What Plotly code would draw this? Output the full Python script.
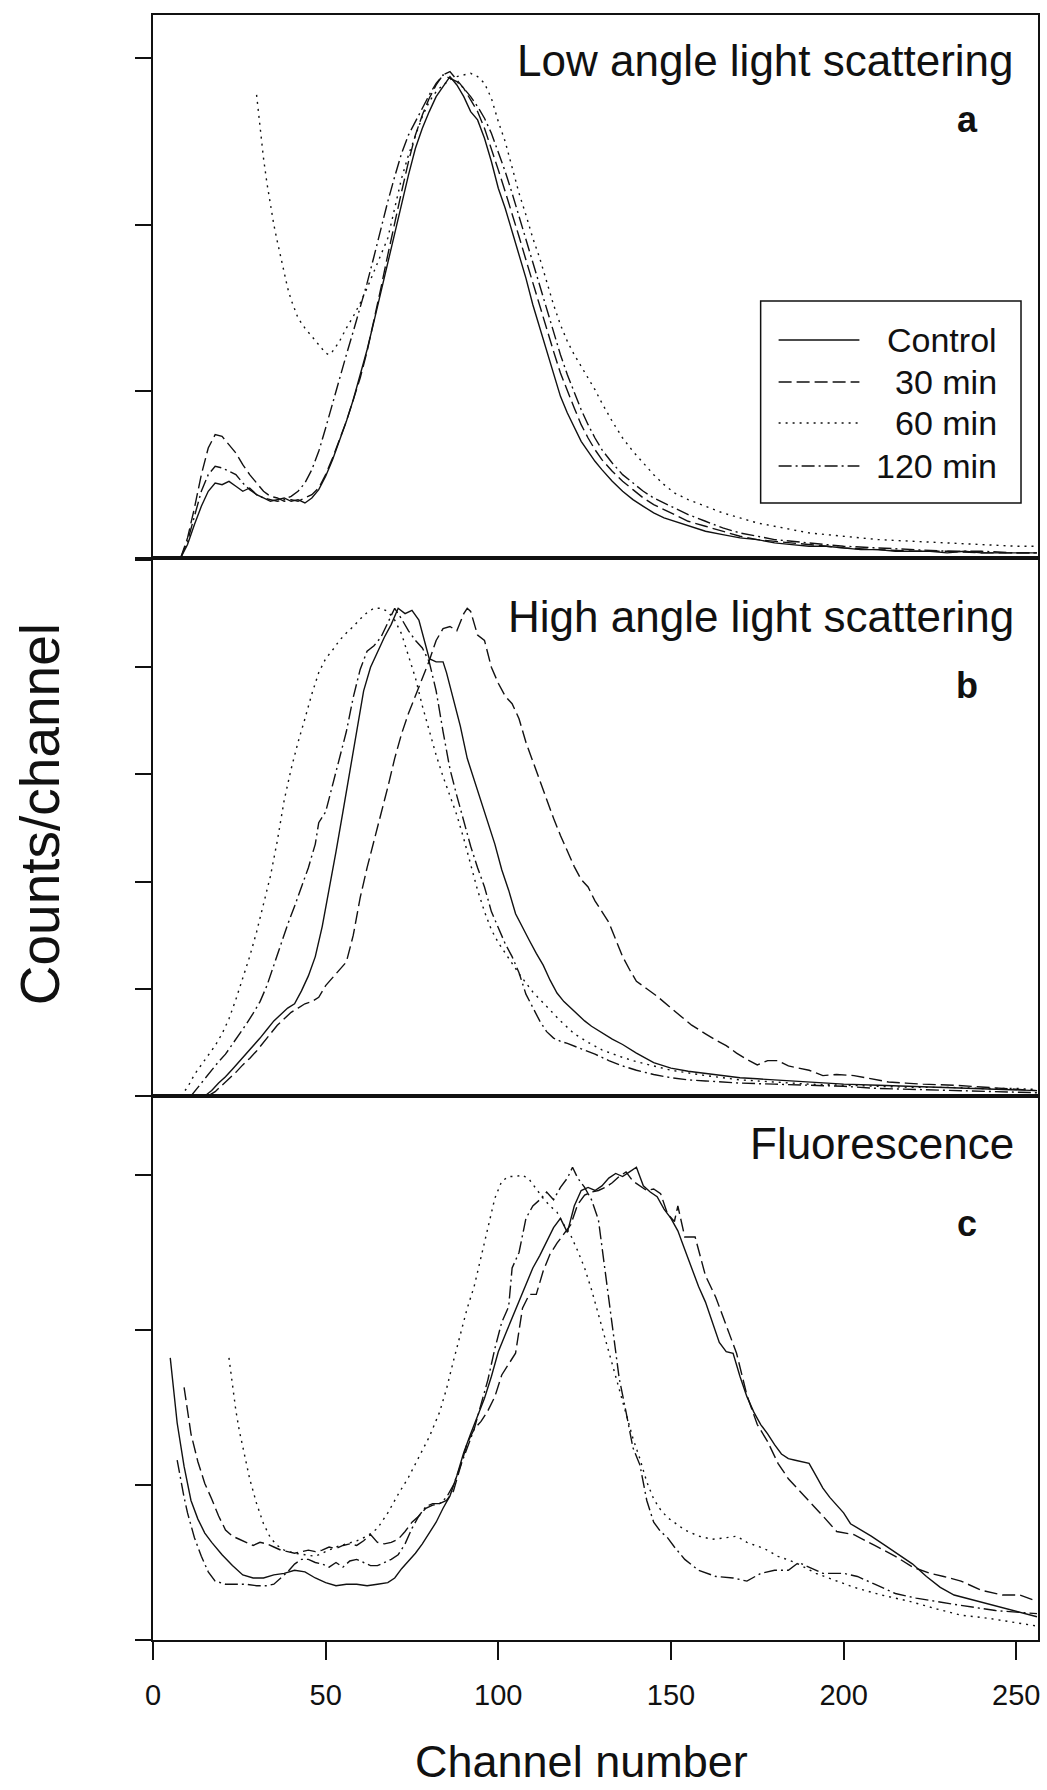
import plotly.graph_objects as go

# ---------------------------------------------------------------------------
# Flow-cytometry histograms: (channel, counts/channel) pairs for each series
# ---------------------------------------------------------------------------

# a) Low angle light scattering
LOW_CONTROL = [(8, 0), (10, 8), (12, 20), (14, 31), (16, 40), (18, 45), (20, 44), (22, 46), (24, 43), (26, 40),
               (28, 42), (30, 38), (32, 36), (34, 34), (36, 35), (38, 36), (40, 34), (42, 35), (44, 33), (46, 36),
               (48, 41), (50, 49), (52, 59), (54, 70), (56, 82), (58, 95), (60, 110), (62, 125), (64, 142), (66, 160),
               (68, 178), (70, 196), (72, 213), (74, 230), (76, 246), (78, 258), (80, 268), (82, 277), (84, 283),
               (86, 289), (88, 284), (90, 277), (92, 268), (94, 263), (96, 252), (98, 238), (100, 222), (102, 210),
               (104, 196), (106, 182), (108, 168), (110, 152), (112, 138), (114, 124), (116, 110), (118, 97),
               (120, 87), (122, 78), (124, 70), (126, 64), (128, 58), (130, 53), (133, 46), (136, 40), (139, 35),
               (142, 31), (145, 27), (148, 24), (151, 22), (155, 19), (160, 16), (165, 14), (170, 12), (175, 11),
               (180, 9), (185, 8), (190, 7), (195, 7), (200, 6), (205, 5), (210, 5), (215, 4), (220, 4), (225, 4),
               (230, 3), (235, 4), (240, 3), (245, 3), (250, 3), (256, 3)]
LOW_30MIN = [(8, 0), (10, 12), (12, 30), (14, 50), (16, 66), (18, 74), (20, 73), (22, 68), (24, 63), (26, 56),
             (28, 50), (30, 45), (32, 40), (34, 37), (36, 36), (38, 34), (40, 35), (42, 34), (44, 36), (46, 38),
             (48, 42), (50, 50), (52, 60), (54, 71), (56, 82), (58, 95), (60, 108), (62, 124), (64, 142), (66, 162),
             (68, 182), (70, 202), (72, 220), (74, 238), (76, 254), (78, 266), (80, 276), (82, 284), (84, 290),
             (86, 292), (88, 287), (90, 282), (92, 275), (94, 268), (96, 258), (98, 246), (100, 233), (102, 220),
             (104, 207), (106, 193), (108, 179), (110, 165), (112, 151), (114, 137), (116, 124), (118, 111),
             (120, 100), (122, 90), (124, 80), (126, 72), (128, 65), (130, 59), (133, 52), (136, 46), (139, 41),
             (142, 36), (145, 32), (148, 29), (151, 26), (155, 22), (160, 19), (165, 16), (170, 13), (175, 11),
             (180, 10), (185, 9), (190, 8), (200, 6), (210, 5), (220, 4), (230, 4), (240, 3), (250, 3), (256, 3)]
LOW_60MIN = [(30, 278), (31, 258), (32, 240), (33, 225), (34, 212), (35, 200), (36, 190), (37, 180), (38, 170),
             (39, 162), (40, 155), (41, 149), (42, 144), (44, 138), (46, 133), (48, 128), (50, 123), (51, 122),
             (52, 124), (54, 130), (56, 138), (58, 145), (60, 153), (62, 162), (64, 172), (66, 182), (68, 192),
             (70, 210), (72, 228), (74, 242), (76, 254), (78, 265), (80, 274), (82, 280), (84, 284), (86, 287),
             (88, 289), (90, 290), (92, 291), (94, 289), (96, 285), (98, 276), (100, 262), (102, 250), (104, 235),
             (106, 219), (108, 206), (110, 192), (112, 180), (114, 166), (116, 152), (118, 140), (120, 130),
             (122, 122), (124, 115), (126, 108), (128, 101), (130, 93), (133, 82), (136, 72), (139, 64), (142, 57),
             (145, 50), (148, 44), (151, 39), (155, 35), (160, 31), (165, 27), (170, 24), (175, 21), (180, 19),
             (185, 17), (190, 15), (195, 14), (200, 13), (210, 11), (220, 10), (230, 9), (240, 8), (250, 7), (256, 7)]
LOW_120MIN = [(8, 0), (10, 10), (12, 25), (14, 40), (16, 50), (18, 55), (20, 54), (22, 52), (24, 50), (26, 45),
              (28, 41), (30, 38), (32, 36), (34, 35), (36, 34), (38, 35), (40, 37), (42, 40), (44, 45), (46, 53),
              (48, 64), (50, 78), (52, 93), (54, 108), (56, 122), (58, 136), (60, 150), (62, 165), (64, 181),
              (66, 198), (68, 214), (70, 229), (72, 243), (74, 254), (76, 262), (78, 270), (80, 278), (82, 285),
              (84, 290), (86, 288), (88, 286), (90, 282), (92, 277), (94, 271), (96, 264), (98, 255), (100, 244),
              (102, 232), (104, 219), (106, 205), (108, 191), (110, 177), (112, 163), (114, 149), (116, 135),
              (118, 122), (120, 110), (122, 99), (124, 89), (126, 80), (128, 72), (130, 65), (133, 57), (136, 50),
              (139, 45), (142, 40), (145, 36), (148, 33), (151, 30), (155, 26), (160, 22), (165, 18), (170, 15),
              (175, 13), (180, 11), (185, 10), (190, 9), (200, 7), (210, 6), (220, 5), (230, 4), (240, 4), (250, 3),
              (256, 3)]

# b) High angle light scattering
HIGH_CONTROL = [(15, 0), (17, 5), (19, 12), (21, 18), (23, 25), (25, 32), (27, 39), (29, 46), (31, 54), (33, 62),
                (35, 70), (37, 76), (39, 82), (41, 86), (43, 98), (45, 112), (47, 130), (49, 158), (51, 192),
                (53, 228), (55, 265), (57, 302), (59, 342), (61, 378), (63, 400), (65, 414), (67, 428), (69, 440),
                (71, 455), (73, 450), (75, 453), (77, 444), (79, 420), (80, 408), (82, 405), (84, 405), (85, 395),
                (87, 370), (89, 345), (91, 315), (93, 295), (95, 275), (97, 257), (99, 235), (101, 211), (103, 192),
                (105, 170), (107, 157), (109, 145), (111, 133), (113, 122), (115, 108), (117, 96), (119, 88),
                (121, 82), (123, 76), (125, 70), (127, 65), (130, 59), (133, 53), (136, 48), (140, 40), (145, 31),
                (150, 26), (155, 23), (160, 21), (165, 19), (170, 17), (175, 16), (180, 15), (190, 13), (200, 11),
                (210, 10), (220, 9), (230, 8), (240, 7), (250, 6), (256, 5)]
HIGH_30MIN = [(16, 0), (18, 4), (20, 10), (22, 16), (24, 22), (26, 29), (28, 35), (30, 42), (32, 50), (34, 58),
              (36, 66), (38, 72), (40, 78), (42, 82), (44, 86), (46, 88), (48, 92), (50, 103), (52, 110), (54, 118),
              (56, 125), (58, 150), (60, 185), (62, 213), (64, 238), (66, 262), (68, 288), (70, 315), (72, 338),
              (74, 357), (76, 374), (78, 390), (80, 406), (82, 425), (84, 436), (86, 438), (88, 434), (90, 450),
              (91, 455), (92, 452), (94, 430), (96, 425), (98, 400), (100, 385), (102, 373), (104, 366), (106, 352),
              (108, 330), (110, 312), (112, 295), (114, 275), (116, 259), (118, 243), (120, 228), (122, 214),
              (124, 202), (126, 195), (128, 182), (130, 172), (132, 162), (134, 146), (136, 130), (138, 118),
              (140, 107), (143, 100), (146, 93), (150, 82), (153, 74), (156, 66), (160, 58), (163, 52), (166, 47),
              (169, 40), (172, 34), (175, 29), (178, 33), (181, 33), (184, 28), (187, 26), (190, 24), (194, 19),
              (198, 20), (203, 19), (208, 16), (213, 13), (218, 12), (223, 11), (232, 10), (242, 8), (250, 6),
              (256, 5)]
HIGH_60MIN = [(8, 0), (10, 8), (12, 20), (14, 29), (16, 38), (18, 47), (20, 58), (22, 72), (24, 90), (26, 110),
              (28, 130), (30, 153), (32, 179), (34, 205), (36, 238), (38, 276), (40, 305), (42, 330), (44, 352),
              (46, 375), (48, 395), (50, 408), (52, 416), (54, 425), (56, 432), (58, 438), (60, 445), (62, 451),
              (64, 455), (66, 455), (68, 452), (70, 444), (72, 431), (74, 410), (76, 390), (78, 364), (80, 341),
              (82, 318), (84, 298), (86, 280), (88, 262), (90, 240), (92, 215), (94, 192), (96, 172), (98, 155),
              (100, 143), (103, 128), (106, 114), (110, 97), (114, 83), (118, 70), (122, 58), (126, 50), (130, 43),
              (135, 37), (140, 32), (145, 28), (150, 24), (160, 19), (170, 15), (180, 13), (190, 11), (200, 10),
              (210, 9), (220, 8), (230, 8), (240, 7), (250, 7), (256, 6)]
HIGH_120MIN = [(11, 0), (13, 8), (15, 17), (17, 25), (19, 32), (21, 39), (23, 48), (25, 58), (27, 67), (29, 77),
               (31, 88), (33, 103), (35, 122), (37, 142), (39, 160), (41, 177), (43, 195), (45, 213), (47, 235),
               (48, 255), (50, 265), (52, 290), (54, 315), (56, 340), (58, 372), (60, 398), (62, 415), (64, 420),
               (66, 428), (68, 442), (70, 455), (72, 445), (74, 434), (76, 425), (78, 418), (80, 405), (82, 378),
               (84, 340), (86, 305), (88, 280), (90, 256), (92, 233), (94, 213), (96, 195), (98, 172), (100, 157),
               (102, 142), (104, 130), (106, 115), (108, 95), (110, 82), (112, 70), (114, 60), (116, 54), (118, 51),
               (120, 49), (124, 44), (128, 39), (132, 33), (136, 28), (140, 24), (145, 20), (150, 17), (155, 15),
               (160, 14), (165, 13), (170, 12), (180, 11), (190, 10), (200, 9), (210, 7), (220, 6), (230, 5),
               (240, 4), (250, 3), (256, 3)]

# c) Fluorescence
FLUO_CONTROL = [(5, 182), (6, 160), (7, 140), (9, 112), (11, 90), (13, 78), (15, 69), (17, 63), (20, 55), (23, 48),
                (26, 42), (29, 40), (32, 40), (35, 42), (38, 43), (41, 45), (44, 44), (47, 40), (50, 37), (53, 35),
                (56, 36), (59, 36), (62, 35), (65, 36), (68, 37), (70, 40), (72, 46), (74, 51), (76, 56), (78, 62),
                (80, 69), (82, 76), (84, 85), (86, 93), (88, 106), (90, 121), (92, 133), (94, 144), (96, 156),
                (98, 170), (100, 186), (102, 197), (104, 208), (106, 219), (108, 229), (110, 240), (112, 248),
                (114, 257), (116, 266), (118, 272), (120, 263), (122, 280), (124, 290), (126, 292), (128, 290),
                (130, 293), (132, 298), (134, 301), (136, 299), (138, 302), (140, 305), (142, 293), (144, 289),
                (146, 286), (148, 278), (150, 272), (152, 264), (154, 252), (156, 240), (158, 228), (160, 218),
                (162, 205), (164, 192), (166, 186), (168, 185), (170, 170), (172, 157), (174, 147), (176, 139),
                (178, 133), (180, 126), (182, 120), (184, 117), (186, 116), (188, 115), (190, 114), (192, 106),
                (194, 98), (196, 92), (198, 87), (200, 82), (202, 75), (205, 71), (208, 67), (212, 61), (216, 55),
                (220, 49), (224, 41), (228, 34), (232, 29), (237, 26), (242, 23), (247, 20), (252, 17), (256, 15)]
FLUO_30MIN = [(9, 163), (10, 148), (11, 133), (13, 115), (15, 101), (17, 91), (19, 80), (21, 71), (23, 67), (25, 65),
              (27, 63), (29, 61), (31, 63), (33, 62), (35, 60), (37, 58), (39, 57), (41, 56), (43, 57), (45, 58),
              (47, 57), (49, 58), (51, 60), (53, 59), (55, 61), (57, 62), (59, 61), (61, 64), (63, 68), (65, 63),
              (67, 62), (69, 63), (71, 65), (73, 70), (75, 76), (77, 80), (79, 85), (81, 87), (83, 88), (85, 90),
              (87, 96), (89, 112), (91, 127), (93, 136), (95, 141), (97, 148), (99, 157), (101, 171), (103, 178),
              (105, 185), (107, 214), (109, 223), (111, 223), (113, 238), (115, 249), (117, 256), (119, 262),
              (121, 268), (123, 281), (125, 287), (127, 289), (129, 290), (131, 292), (133, 295), (135, 299),
              (137, 302), (139, 296), (141, 293), (143, 290), (145, 291), (147, 288), (149, 275), (151, 270),
              (152, 280), (154, 260), (157, 260), (160, 235), (163, 221), (166, 203), (169, 185), (172, 158),
              (175, 139), (178, 128), (181, 114), (184, 104), (187, 97), (190, 90), (194, 80), (198, 70), (203, 68),
              (209, 61), (215, 54), (220, 47), (225, 43), (229, 41), (234, 38), (240, 32), (246, 29), (251, 29),
              (256, 25)]
FLUO_60MIN = [(22, 182), (23, 165), (24, 148), (25, 135), (26, 124), (28, 104), (30, 88), (32, 75), (34, 66), (36, 61),
              (38, 58), (41, 56), (44, 55), (47, 54), (50, 57), (53, 60), (56, 62), (59, 64), (62, 67), (65, 72),
              (68, 82), (71, 94), (74, 105), (77, 118), (80, 131), (83, 147), (85, 162), (87, 180), (89, 198),
              (91, 214), (93, 228), (95, 247), (97, 266), (99, 285), (101, 296), (103, 299), (105, 299), (107, 300),
              (109, 297), (111, 291), (113, 285), (115, 280), (117, 276), (119, 268), (121, 261), (123, 251),
              (125, 240), (127, 226), (129, 210), (131, 194), (133, 179), (135, 163), (137, 146), (139, 130),
              (141, 117), (143, 102), (145, 91), (147, 84), (149, 79), (151, 76), (154, 71), (158, 67), (162, 65),
              (166, 66), (169, 67), (172, 63), (177, 59), (181, 54), (186, 50), (192, 43), (198, 38), (203, 34),
              (211, 29), (219, 25), (227, 20), (234, 16), (242, 14), (250, 11), (256, 9)]
FLUO_120MIN = [(7, 116), (8, 103), (9, 92), (10, 82), (12, 66), (14, 54), (16, 44), (18, 38), (21, 36), (24, 36),
               (27, 36), (30, 35), (33, 35), (35, 36), (37, 40), (39, 44), (41, 49), (43, 52), (45, 52), (47, 50),
               (49, 49), (51, 47), (53, 50), (55, 47), (57, 51), (59, 52), (61, 50), (63, 48), (65, 48), (67, 50),
               (69, 52), (71, 55), (73, 62), (75, 72), (77, 80), (79, 86), (81, 88), (83, 88), (85, 92), (87, 100),
               (89, 112), (91, 123), (93, 136), (95, 152), (97, 168), (99, 188), (101, 205), (103, 215), (104, 240),
               (106, 250), (108, 272), (110, 280), (112, 284), (114, 289), (116, 284), (118, 292), (120, 298),
               (121.5, 305), (123, 298), (125, 292), (127, 284), (129, 271), (131, 237), (133, 203), (135, 169),
               (137, 147), (139, 124), (141, 113), (143, 90), (145, 76), (147, 70), (149, 66), (151, 60), (154, 52),
               (158, 45), (163, 41), (168, 40), (172, 38), (176, 43), (180, 45), (184, 45), (187, 50), (190, 47),
               (194, 43), (200, 43), (204, 41), (209, 36), (215, 30), (221, 27), (226, 25), (232, 23), (238, 21),
               (244, 19), (250, 18), (256, 17)]

SERIES_NAMES = ["Control", "30 min", "60 min", "120 min"]
PANELS = [
    # (x axis, y axis, series data in SERIES_NAMES order)
    ("x3", "y3", [LOW_CONTROL, LOW_30MIN, LOW_60MIN, LOW_120MIN]),
    ("x2", "y2", [HIGH_CONTROL, HIGH_30MIN, HIGH_60MIN, HIGH_120MIN]),
    ("x", "y", [FLUO_CONTROL, FLUO_30MIN, FLUO_60MIN, FLUO_120MIN]),
]
PANEL_TITLES = ["Low angle light scattering", "High angle light scattering", "Fluorescence"]
PANEL_LETTERS = ["a", "b", "c"]
X_TICKS = [0, 50, 100, 150, 200, 250]

# ---------------------------------------------------------------------------
# Styling
# ---------------------------------------------------------------------------
FONT = "Liberation Sans, Arial, Helvetica, sans-serif"
INK = "#111111"
DASHES = {
    "Control": "solid",
    "30 min": "13px,5px",
    "60 min": "2px,5px",
    "120 min": "13px,4px,2px,4px",
}
LINE_W = 1.4

fig = go.Figure()

for xa, ya, series in PANELS:
    for name, pairs in zip(SERIES_NAMES, series):
        ch = [p[0] for p in pairs]
        counts = [p[1] for p in pairs]
        fig.add_trace(go.Scatter(
            x=ch, y=counts, mode="lines", name=name, xaxis=xa, yaxis=ya,
            line=dict(color=INK, width=LINE_W, dash=DASHES[name]),
            showlegend=False, hoverinfo="skip",
        ))

# Panel geometry (paper fractions, bottom to top: c, b, a)
DOM_C = [0.0, 0.3348]
DOM_B = [0.3348, 0.6659]
DOM_A = [0.6659, 1.0]

frame = dict(showline=True, mirror=True, linecolor=INK, linewidth=1.5,
             showgrid=False, zeroline=False)

x_common = dict(range=[0, 256.3], domain=[0, 1], **frame)
y_common = dict(ticks="outside", ticklen=16, tickwidth=1.5, tickcolor=INK,
                showticklabels=False, **frame)

fig.update_layout(
    width=1047, height=1790,
    margin=dict(l=153, r=7, t=15, b=150),
    paper_bgcolor="white", plot_bgcolor="white",
    font=dict(family=FONT, color=INK),
    xaxis=dict(anchor="y", tickvals=X_TICKS, ticks="outside", ticklen=18, tickwidth=1.5,
               tickcolor=INK, tickfont=dict(size=29, family=FONT, color=INK),
               ticklabelstandoff=10, **x_common),
    xaxis2=dict(anchor="y2", matches="x", showticklabels=False, ticks="", **x_common),
    xaxis3=dict(anchor="y3", matches="x", showticklabels=False, ticks="", **x_common),
    yaxis=dict(anchor="x", domain=DOM_C, range=[0, 351], tickvals=[0, 100, 200, 300], **y_common),
    yaxis2=dict(anchor="x2", domain=DOM_B, range=[0, 502], tickvals=[0, 100, 200, 300, 400, 500], **y_common),
    yaxis3=dict(anchor="x3", domain=DOM_A, range=[0, 326], tickvals=[0, 100, 200, 300], **y_common),
)

annotations = []
# Panel titles and letters
title_y = [0.916, 0.892, 0.912]
letter_y = [0.808, 0.762, 0.765]
for (xa, ya, _), title, letter, ty, ly in zip(PANELS, PANEL_TITLES, PANEL_LETTERS, title_y, letter_y):
    annotations.append(dict(text=title, xref=f"{xa} domain", yref=f"{ya} domain",
                            x=0.9755, y=ty, xanchor="right", yanchor="middle", showarrow=False,
                            font=dict(size=44, family=FONT, color=INK)))
    annotations.append(dict(text=f"<b>{letter}</b>", xref=f"{xa} domain", yref=f"{ya} domain",
                            x=0.920, y=ly, xanchor="center", yanchor="middle", showarrow=False,
                            font=dict(size=36, family=FONT, color=INK)))

# Axis titles
annotations.append(dict(text="Channel number", xref="paper", yref="paper", x=0.484, y=-0.0915,
                        xanchor="center", yanchor="bottom", showarrow=False,
                        font=dict(size=45, family=FONT, color=INK)))
annotations.append(dict(text="Counts/channel", xref="paper", yref="paper", x=-0.128, y=0.508,
                        xanchor="center", yanchor="middle", textangle=-90, showarrow=False,
                        font=dict(size=55, family=FONT, color=INK)))

# Key inside panel a: framed box with line samples and right-aligned labels
shapes = [dict(type="rect", xref="x3 domain", yref="y3 domain", x0=0.6866, x1=0.9808, y0=0.1013, y1=0.4733,
               line=dict(color=INK, width=1.5), fillcolor="white", layer="above")]
key_rows = [0.4015, 0.3241, 0.2486, 0.1694]
for name, ky in zip(SERIES_NAMES, key_rows):
    shapes.append(dict(type="line", xref="x3 domain", yref="y3 domain", x0=0.7069, x1=0.7982, y0=ky, y1=ky,
                       line=dict(color=INK, width=LINE_W, dash=DASHES[name]), layer="above"))
    annotations.append(dict(text=name, xref="x3 domain", yref="y3 domain", x=0.956, y=ky,
                            xanchor="right", yanchor="middle", showarrow=False,
                            font=dict(size=34, family=FONT, color=INK)))

fig.update_layout(annotations=annotations, shapes=shapes)

fig.write_html("out.html")
